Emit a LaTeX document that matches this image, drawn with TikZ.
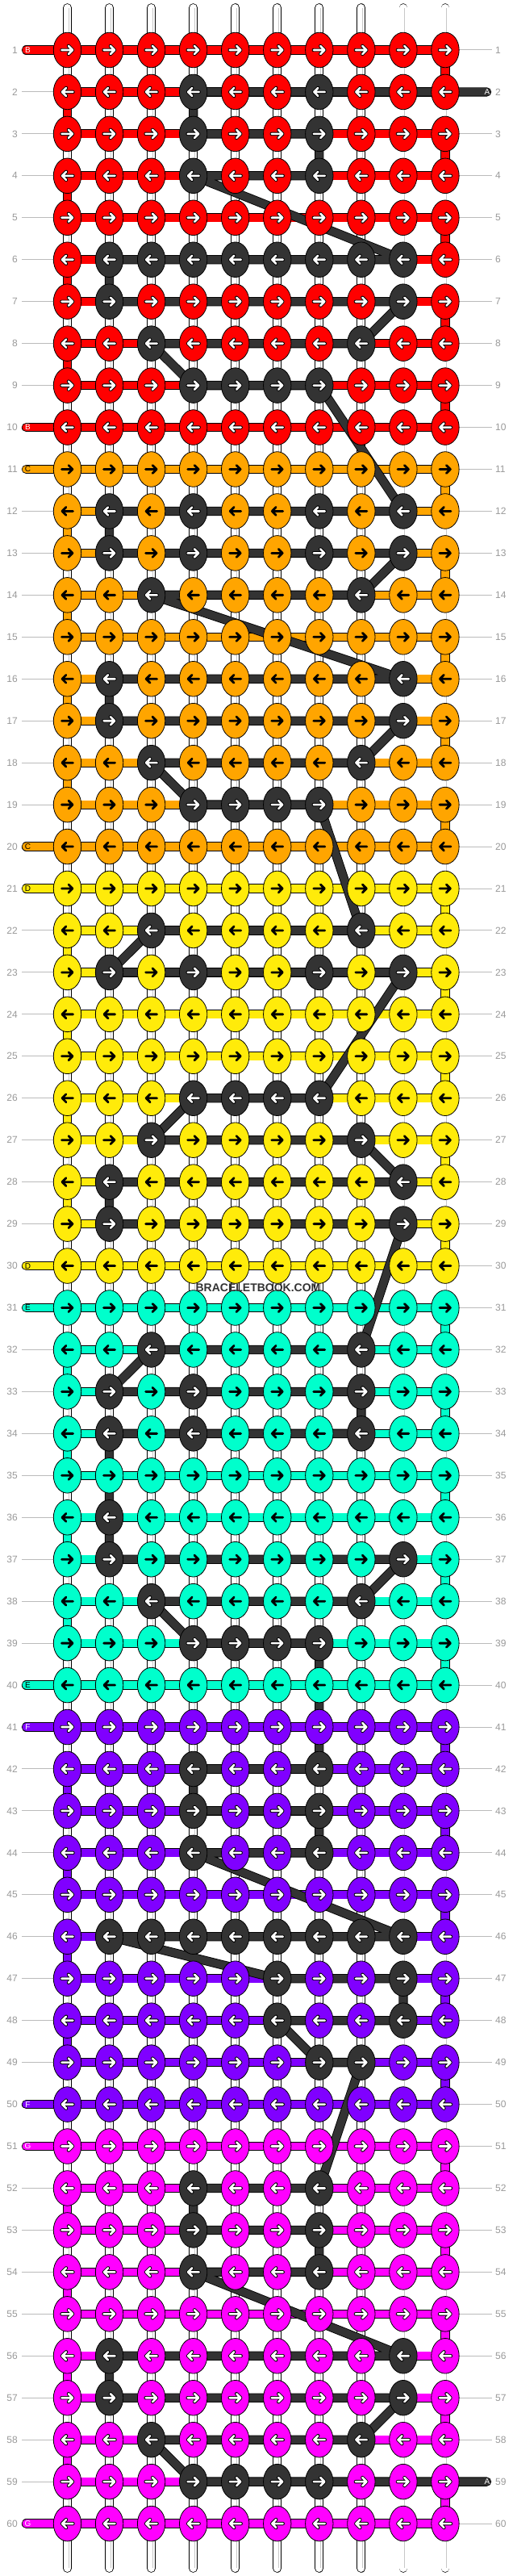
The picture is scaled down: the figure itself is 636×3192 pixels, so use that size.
\documentclass[tikz,border=0pt]{standalone}
\usepackage{fontspec}
\setmainfont{Liberation Sans}
\usetikzlibrary{shapes.geometric}
\definecolor{sec0}{HTML}{FF0000}
\definecolor{sec1}{HTML}{FFA500}
\definecolor{sec2}{HTML}{FFEB0A}
\definecolor{sec3}{HTML}{00FFCC}
\definecolor{sec4}{HTML}{8000FF}
\definecolor{sec5}{HTML}{FF00FF}
\definecolor{dk}{HTML}{333333}
\definecolor{rowlbl}{HTML}{999999}
\definecolor{rowline}{HTML}{BBBBBB}
\definecolor{wline}{HTML}{C8C8C8}
\tikzset{
  strand/.style={draw=black, line width=0.8pt, double=#1, double distance=9.6pt},
  wstrand/.style={draw=black, line width=0.8pt, double=white, double distance=9.2pt, line cap=round},
  knot/.style={ellipse, draw=black, line width=0.8pt, fill=#1, minimum width=34.4pt, minimum height=43.6pt, inner sep=0pt},
  rowno/.style={text=rowlbl, font=\fontsize{12}{12}\selectfont, inner sep=0pt},
  taillbl/.style={font=\fontsize{10}{10}\selectfont, inner sep=0pt, text=#1},
  arrout/.style={black, line width=4.4pt, line cap=round, line join=round},
  arrin/.style={#1, line width=2.6pt, line cap=round, line join=round},
}
\begin{document}
\begin{tikzpicture}[x=1pt,y=-1pt]
\useasboundingbox (0,0) rectangle (636,3192);
\fill[white] (0,0) rectangle (636,3192);
% grid points
\foreach \r in {1,...,60}{
  \foreach \c in {1,...,10}{
    \coordinate (p-\r-\c) at ({83.5+52.05*(\c-1)},{62+51.95*(\r-1)});
  }
}
% dark knots
\foreach \r/\c in {2/4,2/7,3/4,3/7,4/4,4/7,
  6/2,6/3,6/4,6/5,6/6,6/7,6/8,6/9,7/2,7/9,8/3,8/8,9/4,9/5,9/6,9/7,
  12/2,12/4,12/7,12/9,13/2,13/4,13/7,13/9,14/3,14/8,16/2,16/9,17/2,17/9,18/3,18/8,19/4,19/5,19/6,19/7,
  22/3,22/8,23/2,23/4,23/7,23/9,26/4,26/5,26/6,26/7,27/3,27/8,28/2,28/9,29/2,29/9,
  32/3,32/8,33/2,33/4,33/8,34/2,34/4,34/8,36/2,37/2,37/9,38/3,38/8,39/4,39/5,39/6,39/7,
  42/4,42/7,43/4,43/7,44/4,44/7,46/2,46/3,46/4,46/5,46/6,46/7,46/8,46/9,47/6,47/9,48/6,48/9,49/7,49/8,
  52/4,52/7,53/4,53/7,54/4,54/7,56/2,56/9,57/2,57/9,58/3,58/8,59/4,59/5,59/6,59/7}{
  \expandafter\gdef\csname bk@\r @\c\endcsname{1}
}
% white warp strings
\foreach \c in {1,...,10}{
  \pgfmathsetmacro\xx{83.5+52.05*(\c-1)}
  \draw[wstrand] (\xx,9.6) -- (\xx,3182.4);
  \draw[wline, line width=1.1pt] (\xx+1.6,10) -- (\xx+1.6,3182);
}
% coloured working strings
\foreach \r in {1,...,60}{
  \pgfmathtruncatemacro\s{(\r-1)/10}
  \foreach \c in {1,...,9}{
    \pgfmathtruncatemacro\n{\c+1}
    \draw[strand=sec\s] (p-\r-\c) -- (p-\r-\n);
  }
}
\foreach \r in {1,3,...,59}{
  \pgfmathtruncatemacro\s{(\r-1)/10}
  \pgfmathtruncatemacro\n{\r+1}
  \draw[strand=sec\s] (p-\r-10) -- (p-\n-10);
}
\foreach \r in {2,4,...,58}{
  \pgfmathtruncatemacro\s{(\r-1)/10}
  \pgfmathtruncatemacro\n{\r+1}
  \pgfmathtruncatemacro\m{mod(\r,10)}
  \ifnum\m>0
    \draw[strand=sec\s] (p-\r-1) -- (p-\n-1);
  \fi
}
\foreach \r/\s in {1/0,10/0,11/1,20/1,21/2,30/2,31/3,40/3,41/4,50/4,51/5,60/5}{
  \draw[strand=sec\s, line cap=round] (p-\r-1) -- ++(-51.1,0);
}
% row guide lines
\foreach \r in {1,...,60}{
  \pgfmathsetmacro\yy{62+51.95*(\r-1)}
  \pgfmathtruncatemacro\m{mod(\r,10)}
  \ifnum\m>1
    \draw[rowline, line width=1pt] (27,\yy) -- (66.5,\yy);
  \fi
  \ifnum\r=2 \else\ifnum\r=59 \else
    \draw[rowline, line width=1pt] (569,\yy) -- (610,\yy);
  \fi\fi
}
% dark string
\path (p-2-10) ++(51.6,0) coordinate (ta);
\path (p-59-10) ++(51.6,0) coordinate (tb);
\draw[draw=black, line width=0.85pt, double=dk, double distance=9.6pt, line cap=round, line join=round]
  (ta) \foreach \r/\f/\l in {2/7/4,3/4/7,4/7/4,6/9/2,7/2/9,8/8/3,9/4/7,12/9/2,13/2/9,14/8/3,16/9/2,17/2/9,18/8/3,19/4/7,
  22/8/3,23/2/9,26/7/4,27/3/8,28/9/2,29/2/9,32/8/3,33/2/8,34/8/2,36/2/2,37/2/9,38/8/3,39/4/7,
  42/7/4,43/4/7,44/7/4,46/9/2,47/6/9,48/9/6,49/7/8,52/7/4,53/4/7,54/7/4,56/9/2,57/2/9,58/8/3,59/4/7}{
  -- (p-\r-\f) -- (p-\r-\l) } -- (tb);
% knots and arrows
\foreach \r in {1,...,60}{
  \pgfmathtruncatemacro\s{(\r-1)/10}
  \pgfmathtruncatemacro\od{mod(\r,2)}
  \pgfmathtruncatemacro\dd{2*\od-1}
  \foreach \c in {1,...,10}{
    \ifcsname bk@\r @\c\endcsname
      \def\kc{dk}\def\aw{1}%
    \else
      \edef\kc{sec\s}%
      \ifcase\s \def\aw{1}\or\def\aw{0}\or\def\aw{0}\or\def\aw{0}\or\def\aw{1}\or\def\aw{1}\fi
    \fi
    \node[knot=\kc] (k-\r-\c) at (p-\r-\c) {};
    \ifnum\aw=1
      \draw[arrout, shift={(p-\r-\c)}, xscale=\dd] (-7,0) -- (6.5,0) (1.5,-5) -- (6.5,0) -- (1.5,5);
      \draw[arrin=white, shift={(p-\r-\c)}, xscale=\dd] (-7,0) -- (6.5,0) (1.5,-5) -- (6.5,0) -- (1.5,5);
    \else
      \draw[arrin=black, line width=2.8pt, shift={(p-\r-\c)}, xscale=\dd] (-7,0) -- (6.5,0) (1.5,-5) -- (6.5,0) -- (1.5,5);
    \fi
  }
}
% row numbers
\foreach \r in {1,...,60}{
  \pgfmathsetmacro\yy{62+51.95*(\r-1)}
  \node[rowno, anchor=east] (ll-\r) at (22,\yy) {\r};
  \node[rowno, anchor=west] (rl-\r) at (614,\yy) {\r};
}
% tail letters
\foreach \r/\tl/\tc in {1/B/white,10/B/white,11/C/black,20/C/black,21/D/black,30/D/black,
  31/E/black,40/E/black,41/F/white,50/F/white,51/G/white,60/G/white}{
  \path (p-\r-1) ++(-49,0) node[taillbl=\tc] (tl-\r) {\tl};
}
\path (p-2-10) ++(52,0) node[taillbl=white] (ta-lbl) {A};
\path (p-59-10) ++(52,0) node[taillbl=white] (tb-lbl) {A};
% watermark
\node[font=\bfseries\fontsize{14}{14}\selectfont, text=dk] (wm) at (320,1596) {BRACELETBOOK.COM};
\end{tikzpicture}
\end{document}
